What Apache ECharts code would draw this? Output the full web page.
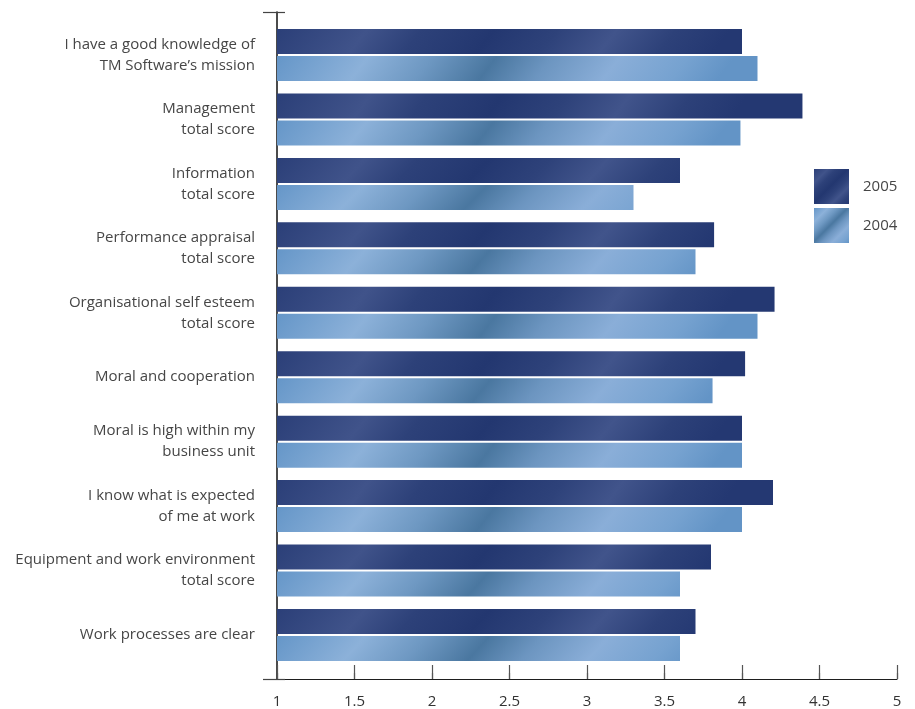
<!DOCTYPE html>
<html>
<head>
<meta charset="utf-8">
<style>
  html, body { margin: 0; padding: 0; background: #ffffff; }
  #chart { width: 915px; height: 709px; }
</style>
<script src="https://cdn.jsdelivr.net/npm/echarts@6/dist/echarts.min.js"></script>
</head>
<body>
<div id="chart"></div>
<script>
// Survey statements, top to bottom
const categories = [
  "I have a good knowledge of\nTM Software\u2019s mission",
  "Management\ntotal score",
  "Information\ntotal score",
  "Performance appraisal\ntotal score",
  "Organisational self esteem\ntotal score",
  "Moral and cooperation",
  "Moral is high within my\nbusiness unit",
  "I know what is expected\nof me at work",
  "Equipment and work environment\ntotal score",
  "Work processes are clear"
];

// Average scores per year
const scores2005 = [4.0, 4.39, 3.6, 3.82, 4.21, 4.02, 4.0, 4.2, 3.8, 3.7];
const scores2004 = [4.1, 3.99, 3.3, 3.7, 4.1, 3.81, 4.0, 4.0, 3.6, 3.6];

// Scale ticks
const scaleMin = 1;
const scaleMax = 5;
const scaleStep = 0.5;

const FONT = "Open Sans";
const TEXT = "#464646";

// Sheen gradients with diagonal highlights
function sheen(stops, y2) {
  return new echarts.graphic.LinearGradient(0, 0, 0.61, y2,
    stops.map(s => ({ offset: s[0], color: s[1] })));
}
const stops2005 = [
  [0, "#2b3f78"], [0.2, "#40538a"], [0.32, "#2d4179"], [0.48, "#233770"],
  [0.62, "#2e427a"], [0.75, "#41548b"], [0.88, "#2d4179"], [1, "#243872"]
];
const stops2004 = [
  [0, "#6596c8"], [0.2, "#8cb1d9"], [0.34, "#6e98c2"], [0.48, "#4a77a0"],
  [0.6, "#6c95c0"], [0.75, "#8aaed8"], [0.9, "#76a2d0"], [1, "#6394c6"]
];
function iconSheen(stops) {
  return new echarts.graphic.LinearGradient(0, 0, 1, 1,
    stops.map(s => ({ offset: s[0], color: s[1] })));
}

const chart = echarts.init(document.getElementById("chart"), null, { renderer: "canvas" });

chart.setOption({
  animation: false,
  backgroundColor: "#ffffff",
  textStyle: { fontFamily: FONT },
  legend: {
    orient: "vertical",
    left: 814,
    top: 169,
    padding: 0,
    itemWidth: 35,
    itemHeight: 35,
    itemGap: 4,
    textStyle: { fontFamily: FONT, fontSize: 15, color: TEXT, padding: [0, 0, 0, 9] },
    data: [
      { name: "2005", icon: "rect", itemStyle: { color: iconSheen(stops2005) } },
      { name: "2004", icon: "rect", itemStyle: { color: iconSheen(stops2004) } }
    ]
  },
  grid: [
    // bars
    { left: 277, right: 18, top: 22.8, height: 644.4, containLabel: false },
    // axis frame
    { left: 277, right: 18, top: 12, bottom: 29, containLabel: false }
  ],
  xAxis: [
    {
      gridIndex: 0, type: "value", min: scaleMin, max: scaleMax, interval: scaleStep,
      show: false
    },
    {
      gridIndex: 1, type: "value", min: scaleMin, max: scaleMax, interval: scaleStep,
      axisLine: { show: true, lineStyle: { color: "#1e1e1e", width: 1.2 } },
      axisTick: { show: true, inside: true, length: 14, lineStyle: { color: "#555555", width: 1.2 } },
      axisLabel: {
        show: true, margin: 15, fontFamily: FONT, fontSize: 15, color: "#333333",
        formatter: v => String(v)
      },
      splitLine: { show: false }
    },
    {
      gridIndex: 1, type: "value", min: scaleMin, max: scaleMax, interval: scaleStep,
      axisLine: { show: false },
      axisTick: { show: true, inside: false, length: 6, lineStyle: { color: "#555555", width: 1.2 } },
      axisLabel: { show: false },
      splitLine: { show: false }
    }
  ],
  yAxis: [
    {
      gridIndex: 0, type: "category", data: categories, inverse: true,
      axisLine: { show: false },
      axisTick: { show: false },
      axisLabel: {
        margin: 22, fontFamily: FONT, fontSize: 15, color: TEXT,
        lineHeight: 21, align: "right"
      }
    },
    {
      gridIndex: 1, type: "value", min: 0, max: 1, interval: 1,
      axisLine: { show: true, lineStyle: { color: "#1e1e1e", width: 1.6 } },
      axisTick: { show: true, inside: false, length: 14, lineStyle: { color: "#444444", width: 1.2 } },
      axisLabel: { show: false },
      splitLine: { show: false }
    },
    {
      gridIndex: 1, type: "value", min: 0, max: 1, interval: 1, position: "left",
      axisLine: { show: false },
      axisTick: { show: true, inside: true, length: 8, lineStyle: { color: "#444444", width: 1.2 } },
      axisLabel: { show: false },
      splitLine: { show: false }
    }
  ],
  series: [
    {
      name: "2005", type: "bar", xAxisIndex: 0, yAxisIndex: 0,
      data: scores2005, barWidth: 25, barGap: "8%",
      itemStyle: { color: sheen(stops2005, 8.8) }
    },
    {
      name: "2004", type: "bar", xAxisIndex: 0, yAxisIndex: 0,
      data: scores2004, barWidth: 25, barGap: "8%",
      itemStyle: { color: sheen(stops2004, 8.8) }
    }
  ]
});
</script>
</body>
</html>
